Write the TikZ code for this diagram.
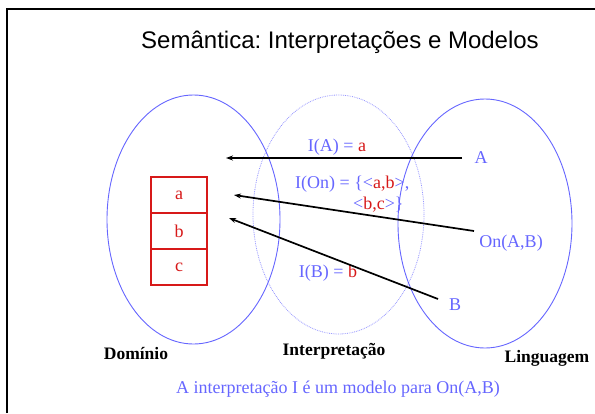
\documentclass[tikz,border=0pt]{standalone}
\usepackage{fontspec}
\setmainfont{Liberation Serif}
\newfontfamily\titlefont{Liberation Sans}
\usetikzlibrary{arrows.meta,shapes.geometric}
\frenchspacing
\definecolor{lblue}{RGB}{102,102,255}
\definecolor{dblue}{RGB}{150,150,255}
\definecolor{lred}{RGB}{215,25,25}
\tikzset{
  circ/.style={draw=lblue, line width=0.9pt, ellipse, inner sep=0pt},
  dcirc/.style={draw=dblue, line width=0.8pt, densely dotted, ellipse, inner sep=0pt},
  cell/.style={draw=lred, line width=1.1pt, minimum width=56pt, minimum height=36pt, inner sep=0pt, text=lred, font=\fontsize{18}{20}\selectfont},
  lbl/.style={inner sep=0pt, text=lblue, font=\fontsize{18}{20}\selectfont},
  captext/.style={inner sep=0pt, font=\fontsize{17.5}{20}\selectfont\bfseries},
  conn/.style={line width=1.7pt, -{Stealth[length=7pt,width=5pt]}}
}
\begin{document}
\begin{tikzpicture}[x=1pt,y=-1pt]
\useasboundingbox (0,0) rectangle (595,413);
\fill[white] (0,0) rectangle (595,413);
% frame
\draw[line width=2.5pt] (7,413) -- (7,9) -- (595,9);
% title
\node[inner sep=0pt, font=\titlefont\fontsize{24}{28}\selectfont] (title) at (340,42) {Semântica: Interpretações e Modelos};
% ellipses
\node[circ, minimum width=173pt, minimum height=249pt] (dom) at (193.5,219.5) {};
\node[dcirc, minimum width=171pt, minimum height=239pt] (int) at (338.5,214.5) {};
\node[circ, minimum width=174pt, minimum height=249pt] (lin) at (485,223.5) {};
% cells
\node[cell] (ca) at (179,195) {a};
\node[cell] (cb) at (179,231) {b};
\node[cell] (cc) at (179,267) {c};
% language labels
\node[lbl] (A) at (481,158) {A};
\node[lbl] (On) at (511,243) {On(A,B)};
\node[lbl] (B) at (455,305) {B};
% interpretation labels
\node[lbl] (IA) at (337,147) {I(A) = \textcolor{lred}{a}};
\node[lbl, anchor=west] (IOn1) at (295,184) {I(On) = \{<\textcolor{lred}{a,b}>,};
\node[lbl, anchor=west] (IOn2) at (353,205) {<\textcolor{lred}{b,c}>\}};
\node[lbl] (IB) at (328,273) {I(B) = \textcolor{lred}{b}};
% connector endpoints
\coordinate (sA) at (462,158);
\coordinate (tA) at (226,158);
\coordinate (sOn) at (474,231);
\coordinate (tOn) at (234,195);
\coordinate (sB) at (438,299);
\coordinate (tB) at (229,218);
\draw[conn] (sA) -- (tA);
\draw[conn] (sOn) -- (tOn);
\draw[conn] (sB) -- (tB);
% captions
\node[captext] (cdom) at (136,353) {Domínio};
\node[captext] (cint) at (334,351) {Interpretação};
\node[captext] (clin) at (547,358) {Linguagem};
\node[lbl] (bottom) at (338,389) {A interpretação I é um modelo para On(A,B)};
\end{tikzpicture}
\end{document}
